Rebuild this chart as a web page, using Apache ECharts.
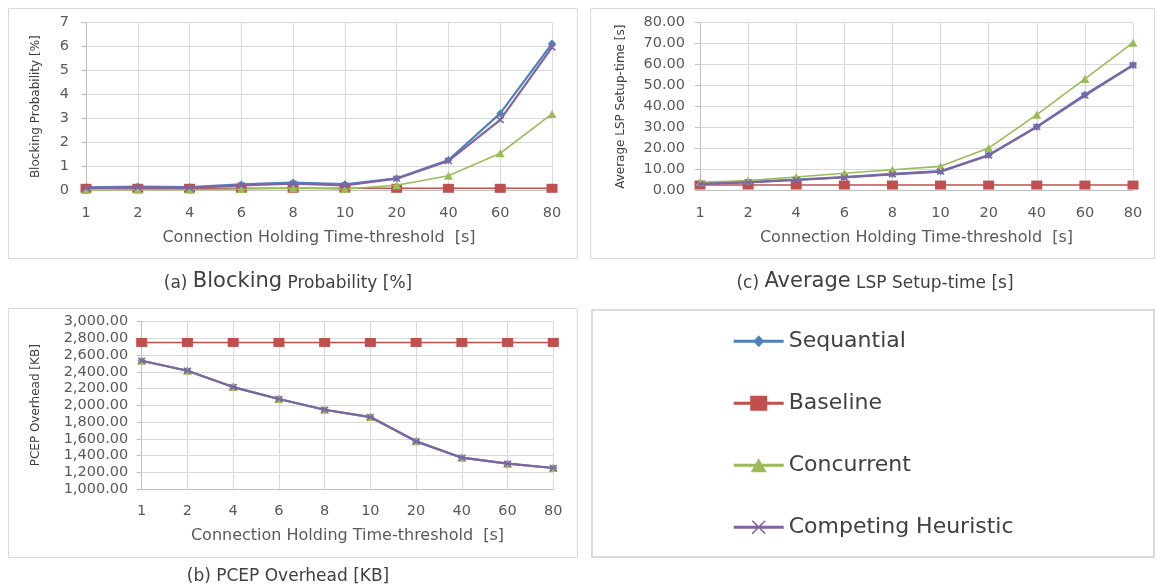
<!DOCTYPE html>
<html>
<head>
<meta charset="utf-8">
<script src="https://cdn.jsdelivr.net/npm/echarts@6/dist/echarts.min.js"></script>
<style>
  html, body { margin: 0; padding: 0; background: #ffffff; }
  #chart { width: 1157px; height: 588px; }
</style>
</head>
<body>
<div id="chart"></div>
<script>
// Holding-time thresholds shared by all three panels
const categories = ['1', '2', '4', '6', '8', '10', '20', '40', '60', '80'];
const seriesNames = ['Sequantial', 'Baseline', 'Concurrent', 'Competing Heuristic'];

// (a) Blocking probability [%]
const seqBlocking  = [0.14, 0.17, 0.15, 0.26, 0.34, 0.27, 0.52, 1.28, 3.22, 6.13];
const baseBlocking = [0.10, 0.10, 0.10, 0.10, 0.10, 0.10, 0.10, 0.10, 0.10, 0.10];
const concBlocking = [0.03, 0.04, 0.04, 0.07, 0.10, 0.07, 0.23, 0.62, 1.56, 3.20];
const compBlocking = [0.11, 0.14, 0.12, 0.22, 0.29, 0.22, 0.50, 1.24, 2.95, 5.97];

// (c) Average LSP setup-time [s]
const seqSetup  = [3.4, 4.1, 5.3, 6.5, 8.0, 9.3, 17.0, 30.5, 45.7, 59.9];
const baseSetup = [2.7, 2.7, 2.7, 2.7, 2.7, 2.7, 2.7, 2.7, 2.7, 2.7];
const concSetup = [4.0, 4.8, 6.5, 8.3, 10.0, 11.6, 20.3, 36.2, 53.2, 70.5];
const compSetup = [3.2, 4.0, 5.1, 6.3, 7.8, 9.1, 16.8, 30.3, 45.3, 59.7];

// (b) PCEP overhead [KB]
const seqOverhead  = [2531, 2412, 2217, 2074, 1946, 1859, 1569, 1374, 1302, 1251];
const baseOverhead = [2750, 2750, 2750, 2750, 2750, 2750, 2750, 2750, 2750, 2750];
const concOverhead = [2531, 2412, 2217, 2074, 1946, 1859, 1569, 1374, 1302, 1251];
const compOverhead = [2531, 2412, 2217, 2074, 1946, 1859, 1569, 1374, 1302, 1251];

const FONT = 'DejaVu Sans';
const colors = ['#4F81BD', '#C0504D', '#9BBB59', '#8064A2'];
const crossPath = 'path://M0,1.5L1.5,0L5,3.5L8.5,0L10,1.5L6.5,5L10,8.5L8.5,10L5,6.5L1.5,10L0,8.5L3.5,5Z';
const symbols = ['diamond', 'rect', 'triangle', crossPath];
const symbolSizes = [[8, 8], [11, 9], [9, 8], [8, 7]];
const lineWidths = [2.2, 1.6, 1.6, 2.2];

// legend icons: a short line with the marker on top of it
const legendIcons = [
  'path://M0,8.5H50V11.5H0Z M19.5,10L25,4L30.5,10L25,16Z',
  'path://M0,8.5H50V11.5H0Z M16.5,2.5H33.5V17.5H16.5Z',
  'path://M0,8.5H50V11.5H0Z M17,17L25,3L33,17Z',
  'path://M0,8.5H50V11.5H0Z M18,4.1L19.1,3L25,8.9L30.9,3L32,4.1L26.1,10L32,15.9L30.9,17L25,11.1L19.1,17L18,15.9L23.9,10Z'
];

const panels = [
  { data: [seqBlocking, baseBlocking, concBlocking, compBlocking] },
  { data: [seqSetup, baseSetup, concSetup, compSetup] },
  { data: [seqOverhead, baseOverhead, concOverhead, compOverhead] }
];

function thousands(v) {
  const parts = v.toFixed(2).split('.');
  parts[0] = parts[0].replace(/\B(?=(\d{3})+(?!\d))/g, ',');
  return parts.join('.');
}

const tickText = { color: '#595959', fontSize: 14.5, fontFamily: FONT };
const axisLineStyle = { color: '#bfbfbf', width: 1 };
const gridLineStyle = { color: '#d9d9d9', width: 1 };

function xAxisFor(gridIndex) {
  return {
    type: 'category',
    gridIndex: gridIndex,
    data: categories,
    boundaryGap: false,
    axisLine: { show: true, lineStyle: axisLineStyle },
    axisTick: { show: false },
    axisLabel: Object.assign({ interval: 0, margin: 15 }, tickText),
    splitLine: { show: true, interval: 0, lineStyle: gridLineStyle },
    name: 'Connection Holding Time-threshold  [s]',
    nameLocation: 'middle',
    nameGap: 39,
    nameTextStyle: { color: '#595959', fontSize: 16, fontFamily: FONT }
  };
}

function yAxisFor(gridIndex, min, max, interval, name, gap, margin, fmt) {
  return {
    type: 'value',
    gridIndex: gridIndex,
    min: min, max: max, interval: interval,
    axisLine: { show: true, lineStyle: axisLineStyle },
    axisTick: { show: true, length: 5, lineStyle: axisLineStyle },
    axisLabel: Object.assign({ margin: margin, formatter: fmt }, tickText),
    splitLine: { show: true, lineStyle: gridLineStyle },
    name: name,
    nameLocation: 'middle',
    nameRotate: 90,
    nameGap: gap,
    nameTextStyle: { color: '#404040', fontSize: 12, fontFamily: FONT }
  };
}

const series = [];
panels.forEach(function (panel, p) {
  panel.data.forEach(function (values, i) {
    series.push({
      type: 'line',
      name: seriesNames[i],
      xAxisIndex: p,
      yAxisIndex: p,
      data: values,
      symbol: symbols[i],
      symbolSize: symbolSizes[i],
      showAllSymbol: true,
      color: colors[i],
      lineStyle: { color: colors[i], width: lineWidths[i] },
      itemStyle: { color: colors[i] },
      emphasis: { disabled: true },
      z: 2 + i
    });
  });
});

function box(x, y, w, h, stroke, lw) {
  return {
    type: 'rect',
    silent: true,
    z: -10,
    shape: { x: x, y: y, width: w, height: h },
    style: { fill: 'none', stroke: stroke, lineWidth: lw }
  };
}

function caption(x, y, small1, big, small2, smallSize, bigSize) {
  return {
    type: 'text',
    silent: true,
    x: x, y: y,
    style: {
      text: big ? '{s|' + small1 + '}{b|' + big + '}{s|' + small2 + '}' : '{s|' + small1 + '}',
      align: 'center',
      verticalAlign: 'middle',
      textAlign: 'center',
      textVerticalAlign: 'middle',
      rich: {
        s: { fontSize: smallSize, fontFamily: FONT, fill: '#404040', color: '#404040', verticalAlign: 'bottom' },
        b: { fontSize: bigSize, fontFamily: FONT, fill: '#404040', color: '#404040', verticalAlign: 'bottom' }
      }
    }
  };
}

const option = {
  animation: false,
  backgroundColor: '#ffffff',
  grid: [
    { left: 86, top: 22.7, width: 466, height: 168 },
    { left: 700, top: 22.7, width: 433, height: 168 },
    { left: 141.7, top: 321.5, width: 411.6, height: 167.5 }
  ],
  xAxis: [xAxisFor(0), xAxisFor(1), xAxisFor(2)],
  yAxis: [
    yAxisFor(0, 0, 7, 1, 'Blocking Probability [%]', 44, 17, function (v) { return String(v); }),
    yAxisFor(1, 0, 80, 10, 'Average LSP Setup-time [s]', 73, 15, function (v) { return v.toFixed(2); }),
    yAxisFor(2, 1000, 3000, 200, 'PCEP Overhead [KB]', 100, 13.5, thousands)
  ],
  legend: {
    orient: 'vertical',
    left: 733.7,
    top: 330.2,
    padding: 0,
    itemWidth: 50,
    itemHeight: 20,
    itemGap: 40,
    selectedMode: false,
    textStyle: { fontSize: 22, fontFamily: FONT, color: '#404040', lineHeight: 20 },
    data: seriesNames.map(function (n, i) { return { name: n, icon: legendIcons[i] }; })
  },
  graphic: [
    box(8.5, 8.5, 569, 250, '#d9d9d9', 1),
    box(590.5, 8.5, 564, 250, '#d9d9d9', 1),
    box(8.5, 308.5, 569, 249, '#d9d9d9', 1),
    box(592, 310, 562, 247, '#d0d0d0', 1.5),
    caption(288, 282, '(a) ', 'Blocking', ' Probability [%]', 17, 21),
    caption(875, 282, '(c) ', 'Average', ' LSP Setup-time [s]', 17, 21),
    caption(288, 577, '(b) PCEP Overhead [KB]', null, null, 17, 17)
  ],
  series: series
};

const chart = echarts.init(document.getElementById('chart'), null, { renderer: 'canvas' });
chart.setOption(option);
</script>
</body>
</html>
